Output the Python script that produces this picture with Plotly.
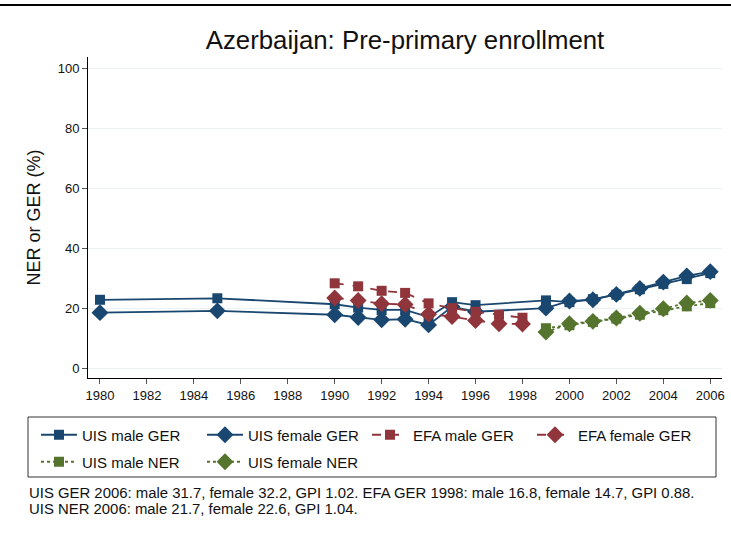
import plotly.graph_objects as go

# data
uis_years = [1980, 1985, 1990, 1991, 1992, 1993, 1994, 1995, 1996, 1999,
             2000, 2001, 2002, 2003, 2004, 2005, 2006]
uis_male_ger = [22.8, 23.3, 21.3, 20.2, 19.4, 19.4, 17.0, 22.0, 21.0, 22.6,
                22.0, 23.0, 24.5, 26.3, 28.1, 29.7, 31.7]
uis_female_ger = [18.5, 19.1, 17.8, 16.9, 16.1, 16.3, 14.4, 20.5, 18.8, 20.0,
                  22.4, 22.8, 24.6, 26.6, 28.7, 30.8, 32.2]

efa_years = [1990, 1991, 1992, 1993, 1994, 1995, 1996, 1997, 1998]
efa_male_ger = [28.3, 27.3, 25.8, 25.1, 21.6, 20.0, 18.8, 17.8, 16.8]
efa_female_ger = [23.4, 22.6, 21.5, 21.2, 18.0, 17.2, 15.9, 14.8, 14.7]

ner_years = [1999, 2000, 2001, 2002, 2003, 2004, 2005, 2006]
uis_male_ner = [13.3, 14.3, 15.4, 16.5, 17.8, 19.3, 20.6, 21.7]
uis_female_ner = [12.0, 14.8, 15.6, 16.7, 18.3, 19.8, 21.7, 22.6]

notes = ["UIS GER 2006: male 31.7, female 32.2, GPI 1.02. EFA GER 1998: male 16.8, female 14.7, GPI 0.88.",
         "UIS NER 2006: male 21.7, female 22.6, GPI 1.04."]

BLUE = "#1a476f"
RED = "#90353b"
GREEN = "#55752f"
FONT = "Arial, Liberation Sans, sans-serif"

W, H = 731, 538
L, R, T, B = 88, 9, 57, 160


def cx(p):
    return p / W


def cy(p):
    return 1 - p / H


# name, x-pixel of legend text, y-pixel of legend row
series = [
    (uis_years, uis_male_ger, "UIS male GER", BLUE, "solid", "square", 10, 82, 435),
    (uis_years, uis_female_ger, "UIS female GER", BLUE, "solid", "diamond", 13, 248, 435),
    (efa_years, efa_male_ger, "EFA male GER", RED, "dash", "square", 10, 413, 435),
    (efa_years, efa_female_ger, "EFA female GER", RED, "dash", "diamond", 13, 578, 435),
    (ner_years, uis_male_ner, "UIS male NER", GREEN, "3px,3px", "square", 10, 82, 462),
    (ner_years, uis_female_ner, "UIS female NER", GREEN, "3px,3px", "diamond", 13, 248, 462),
]

fig = go.Figure()
legends = {}
for i, (xs, ys, name, col, dash, sym, size, lx, ly) in enumerate(series):
    key = "legend" if i == 0 else "legend%d" % (i + 1)
    fig.add_trace(go.Scatter(
        x=xs, y=ys, name=name, mode="lines+markers",
        line=dict(color=col, width=1.8, dash=dash),
        marker=dict(symbol=sym, size=size, color=col),
        legend=key))
    legends[key] = dict(x=cx(lx - 46), y=cy(ly), orientation="h",
                        xanchor="left", yanchor="middle",
                        xref="container", yref="container",
                        bgcolor="rgba(0,0,0,0)", borderwidth=0, itemwidth=36,
                        font=dict(family=FONT, size=15, color="#111"))

fig.update_layout(
    width=W, height=H,
    margin=dict(l=L, r=R, t=T, b=B, autoexpand=False),
    paper_bgcolor="white", plot_bgcolor="white",
    title=dict(text="Azerbaijan: Pre-primary enrollment", x=0.5 * (L + W - R) / W,
               xanchor="center", y=1 - 40 / H, yanchor="middle",
               font=dict(family=FONT, size=25.8, color="#111")),
    xaxis=dict(range=[1979.49, 2006.5], tickmode="linear", tick0=1980, dtick=2,
               ticks="outside", ticklen=5, tickcolor="#555", showgrid=False,
               showline=True, linecolor="black", linewidth=1, zeroline=False,
               automargin=False,
               tickfont=dict(family=FONT, size=13, color="#111")),
    yaxis=dict(range=[-3.33, 103.9], tickmode="linear", tick0=0, dtick=20,
               ticks="outside", ticklen=5, tickcolor="#555",
               showgrid=True, gridcolor="#eaf2f3", gridwidth=1,
               showline=True, linecolor="black", linewidth=1, zeroline=False,
               automargin=False,
               tickfont=dict(family=FONT, size=13, color="#111"),
               title=dict(text="NER or GER (%)", standoff=12,
                          font=dict(family=FONT, size=18, color="#111"))),
    showlegend=True,
    **legends,
)

# legend frame and top rule
fig.add_shape(type="rect", xref="paper", yref="paper",
              x0=(28 - L) / (W - L - R), x1=(716 - L) / (W - L - R),
              y0=(H - B - 477) / (H - T - B), y1=(H - B - 417) / (H - T - B),
              line=dict(color="#333", width=1), fillcolor="rgba(0,0,0,0)")
fig.add_shape(type="line", xref="paper", yref="paper",
              x0=-L / (W - L - R), x1=1 + R / (W - L - R),
              y0=(H - B - 5) / (H - T - B), y1=(H - B - 5) / (H - T - B),
              line=dict(color="black", width=2))

for i, txt in enumerate(notes):
    fig.add_annotation(text=txt, xref="paper", yref="paper",
                       x=(27 - L) / (W - L - R), y=(H - B - 493 - 16 * i) / (H - T - B),
                       xanchor="left", yanchor="middle",
                       showarrow=False, font=dict(family=FONT, size=14.9, color="#111"))

fig.write_html("out.html", config={"displayModeBar": False},
               post_script="document.body.style.margin='0';")
